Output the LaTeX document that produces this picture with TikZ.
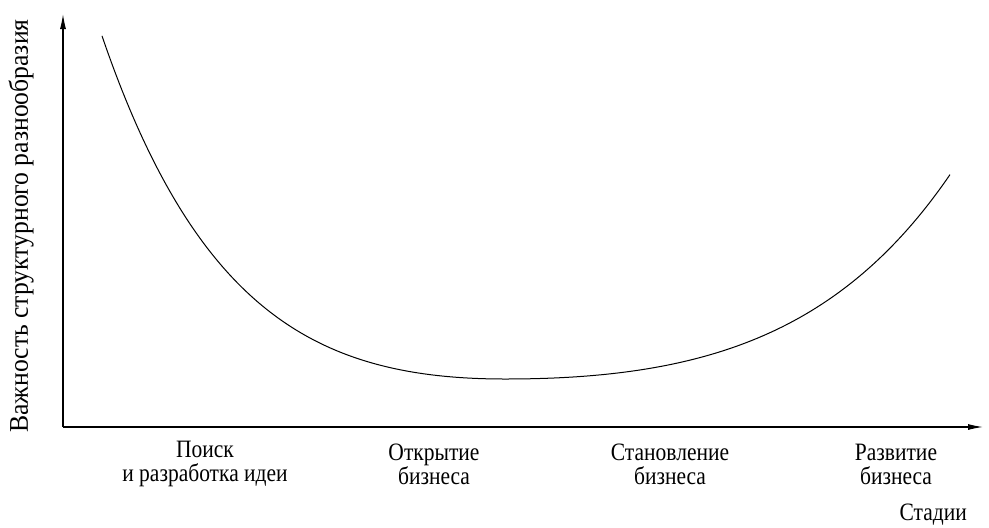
\documentclass[tikz,border=0pt]{standalone}
\usepackage{fontspec}
\setmainfont{Liberation Serif}[FakeStretch=0.95]
\newfontfamily\narrowserif{Liberation Serif}[FakeStretch=0.86]
\usetikzlibrary{arrows.meta}
\tikzset{
  axis/.style={line width=1.1pt,-{Latex[length=15pt,width=6pt]}},
  curve/.style={line width=1pt},
  lbl/.style={align=center,font=\narrowserif\fontsize{25}{24}\selectfont,inner sep=0pt},
}
\begin{document}
\begin{tikzpicture}[x=1pt,y=-1pt]
\useasboundingbox (0,0) rectangle (989,528);
\coordinate (O) at (63,427);
\coordinate (Ytop) at (63,14);
\coordinate (Xend) at (983,427);
\draw[axis] (O) -- (Ytop);
\draw[axis] (O) -- (Xend);
\draw[curve]
  plot[domain=102:505,samples=120] (\x,{379-26.4*(exp(0.007*(505-\x))-1-0.007*(505-\x))})
  -- plot[domain=505:950,samples=120] (\x,{379-25.3*(exp(0.0055*(\x-505))-1-0.0055*(\x-505))});
\node[align=center,inner sep=0pt,rotate=90,font=\fontsize{27}{27}\selectfont] (ylab) at (21,226) {Важность структурного разнообразия};
\node[lbl] (s1) at (205,464) {Поиск\\и разработка идеи};
\node[lbl] (s2) at (434,464) {Открытие\\бизнеса};
\node[lbl] (s3) at (670,464) {Становление\\бизнеса};
\node[lbl] (s4) at (896,464) {Развитие\\бизнеса};
\node[lbl,anchor=base east] (xlab) at (967,520) {Стадии};
\end{tikzpicture}
\end{document}
